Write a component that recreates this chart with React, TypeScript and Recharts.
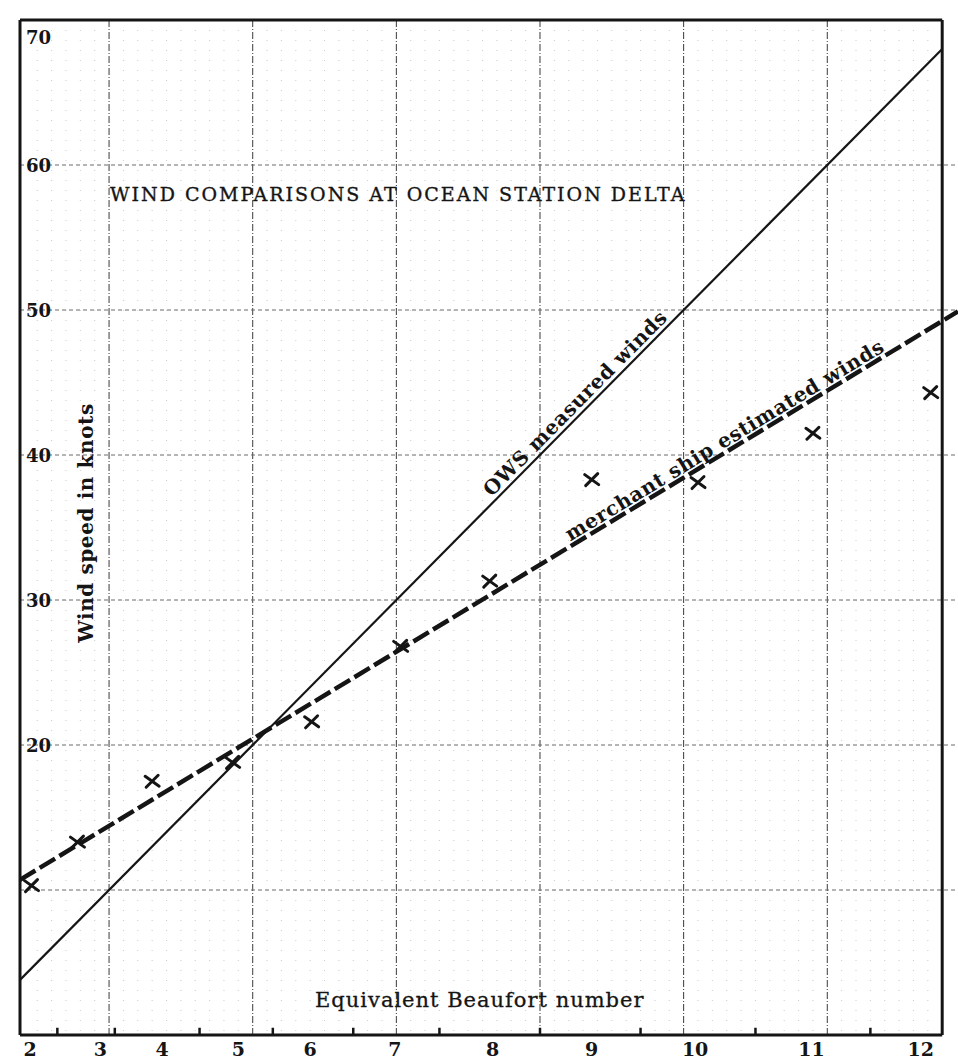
import React from "react";
import {
  ComposedChart,
  Line,
  Scatter,
  XAxis,
  YAxis,
  CartesianGrid,
  ReferenceLine,
} from "recharts";

// x axis runs in knots of the OWS (measured) scale, so the OWS line is y = x
const X_MIN = 3.8;
const X_MAX = 69.1;
const FRAME_RIGHT = 68.0;

const beaufortNumbers = [2, 3, 4, 5, 6, 7, 8, 9, 10, 11, 12];
const beaufortLabelKnots = [4.5, 9.4, 13.7, 19.0, 24.0, 29.9, 36.7, 43.6, 50.8, 58.9, 66.5];
const beaufortBoundaryKnots = [6.4, 10.4, 16.3, 21.4, 27.0, 33.0, 40.0, 47.0, 55.0, 63.0];

// mean merchant ship estimate per Beaufort class
const pointKnotsX = [4.6, 7.8, 13.0, 18.6, 24.1, 30.3, 36.5, 43.6, 51.0, 59.0, 67.2];
const merchantMeanKnots = [10.3, 13.3, 17.5, 18.8, 21.6, 26.8, 31.3, 38.3, 38.1, 41.5, 44.3];

const owsLineX = [3.8, 68.0];
const owsLineY = [3.8, 68.0];
const merchantFitX = [3.8, 69.1];
const merchantFitY = [10.7, 49.9];

const yTicks = [20, 30, 40, 50, 60, 70];
const majorGrid = [10, 20, 30, 40, 50, 60];
const minorGridX: number[] = [];
for (let k = 5; k <= 68; k++) if (k % 10 !== 0) minorGridX.push(k);

const FONT = "'DejaVu Serif', serif";
const INK = "#151515";

const points = pointKnotsX.map((x, i) => ({ x, y: merchantMeanKnots[i] }));
const owsLine = owsLineX.map((x, i) => ({ x, y: owsLineY[i] }));
const merchantFit = merchantFitX.map((x, i) => ({ x, y: merchantFitY[i] }));

// eslint-disable-next-line @typescript-eslint/no-explicit-any
function XMark(props: any) {
  const { cx, cy } = props;
  if (cx == null || cy == null) return null;
  return (
    <g stroke={INK} strokeWidth={3} strokeLinecap="round">
      <line x1={cx - 7} y1={cy - 5} x2={cx + 7} y2={cy + 5} />
      <line x1={cx - 6} y1={cy + 6} x2={cx + 6} y2={cy - 6} />
    </g>
  );
}

// eslint-disable-next-line @typescript-eslint/no-explicit-any
function YTick(props: any) {
  const { x, y, payload } = props;
  const v = payload.value;
  return (
    <text
      x={x + 14}
      y={v === 70 ? y + 17 : y}
      dominantBaseline="central"
      fontFamily={FONT}
      fontWeight="bold"
      fontSize={18}
      fill={INK}
    >
      {v}
    </text>
  );
}

// eslint-disable-next-line @typescript-eslint/no-explicit-any
function XTick(props: any) {
  const { x, y, payload } = props;
  const idx = beaufortLabelKnots.indexOf(payload.value);
  return (
    <text
      x={x}
      y={y + 6}
      textAnchor="middle"
      dominantBaseline="central"
      fontFamily={FONT}
      fontWeight="bold"
      fontSize={19}
      fill={INK}
    >
      {beaufortNumbers[idx]}
    </text>
  );
}

export default function App() {
  return (
    <div style={{ position: "absolute", left: 0, top: 0, width: 958, height: 1062, background: "#fff" }}>
      <ComposedChart
        width={958}
        height={1062}
        margin={{ top: 20, right: 0, bottom: 0, left: -20 }}
      >
        <CartesianGrid
          horizontal={false}
          verticalValues={minorGridX}
          stroke="#9a9a9a"
          strokeDasharray="1 9"
          strokeOpacity={0.5}
        />
        <CartesianGrid
          horizontal={false}
          verticalValues={majorGrid}
          stroke="#3a3a3a"
          strokeDasharray="7 2 1 2"
        />
        <CartesianGrid
          vertical={false}
          horizontalValues={majorGrid}
          stroke="#6a6a6a"
          strokeDasharray="4 3"
        />
        <XAxis
          dataKey="x"
          type="number"
          domain={[X_MIN, X_MAX]}
          ticks={beaufortLabelKnots}
          tick={<XTick />}
          interval={0}
          axisLine={false}
          tickLine={false}
          height={27}
          allowDataOverflow
        />
        <YAxis
          dataKey="y"
          type="number"
          domain={[0, 70]}
          ticks={yTicks}
          tick={<YTick />}
          interval={0}
          axisLine={false}
          tickLine={false}
          width={40}
          allowDataOverflow
        />

        {/* frame */}
        <ReferenceLine
          segment={[{ x: X_MIN, y: 0 }, { x: X_MIN, y: 70 }]}
          stroke={INK}
          strokeWidth={3}
          ifOverflow="visible"
        />
        <ReferenceLine
          segment={[{ x: X_MIN, y: 70 }, { x: FRAME_RIGHT, y: 70 }]}
          stroke={INK}
          strokeWidth={3}
          ifOverflow="visible"
        />
        <ReferenceLine
          segment={[{ x: FRAME_RIGHT, y: 0 }, { x: FRAME_RIGHT, y: 70 }]}
          stroke={INK}
          strokeWidth={3}
          ifOverflow="visible"
        />
        <ReferenceLine
          segment={[{ x: X_MIN, y: 0 }, { x: FRAME_RIGHT, y: 0 }]}
          stroke={INK}
          strokeWidth={3}
          ifOverflow="visible"
        />
        {beaufortBoundaryKnots.map((b) => (
          <ReferenceLine
            key={b}
            segment={[{ x: b, y: 0 }, { x: b, y: 0.5 }]}
            stroke={INK}
            strokeWidth={2.5}
            ifOverflow="visible"
          />
        ))}

        <Line
          data={owsLine}
          dataKey="y"
          type="linear"
          stroke={INK}
          strokeWidth={2.2}
          dot={false}
          isAnimationActive={false}
        />
        <Line
          data={merchantFit}
          dataKey="y"
          type="linear"
          stroke={INK}
          strokeWidth={4.5}
          strokeDasharray="18 5"
          dot={false}
          isAnimationActive={false}
        />
        <Scatter data={points} dataKey="y" shape={<XMark />} isAnimationActive={false} />
      </ComposedChart>

      <svg
        width={958}
        height={1062}
        style={{ position: "absolute", left: 0, top: 0, pointerEvents: "none" }}
      >
        <g fontFamily={FONT} fill={INK}>
          <text x={110} y={201} fontSize={19} letterSpacing={2} stroke={INK} strokeWidth={0.35}>
            WIND COMPARISONS AT OCEAN STATION DELTA
          </text>
          <text
            x={86}
            y={523}
            fontSize={20}
            fontWeight="bold"
            letterSpacing={0.6}
            textAnchor="middle"
            dominantBaseline="central"
            transform="rotate(-90 86 523)"
          >
            Wind speed in knots
          </text>
          <text
            x={315}
            y={1000}
            fontSize={21}
            letterSpacing={1}
            stroke={INK}
            strokeWidth={0.3}
            dominantBaseline="central"
          >
            Equivalent Beaufort number
          </text>
          <text
            x={580}
            y={408}
            fontSize={20}
            fontWeight="bold"
            letterSpacing={0.5}
            textAnchor="middle"
            transform="rotate(-45.3 580 408)"
          >
            OWS measured winds
          </text>
          <text
            x={728}
            y={446}
            fontSize={20}
            fontWeight="bold"
            letterSpacing={0.6}
            textAnchor="middle"
            transform="rotate(-31.2 728 446)"
          >
            merchant ship estimated winds
          </text>
        </g>
      </svg>
    </div>
  );
}
